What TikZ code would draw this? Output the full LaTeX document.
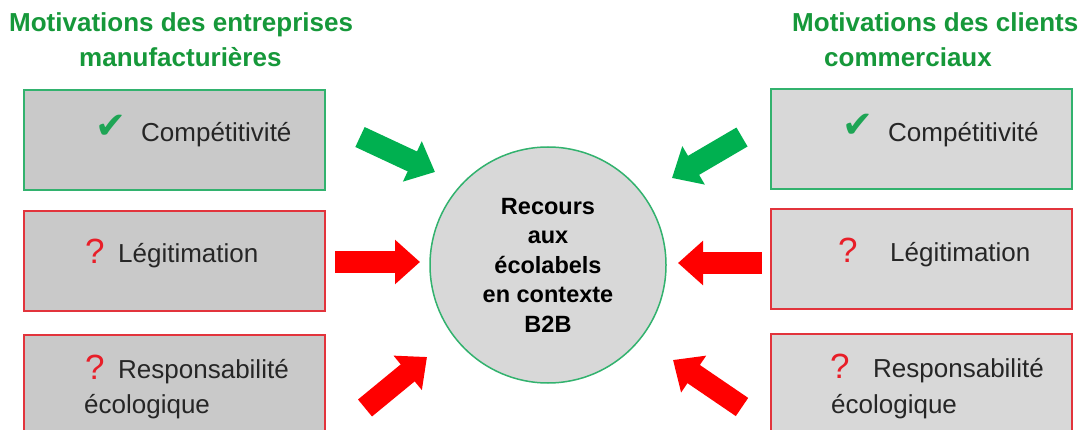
\documentclass[tikz,border=0pt]{standalone}
\usepackage{fontspec}
\setmainfont{Liberation Sans}
\newfontfamily\dejavu{DejaVu Sans}
\usetikzlibrary{arrows.meta}
\definecolor{titlegreen}{RGB}{22,152,58}
\definecolor{arrgreen}{RGB}{0,176,80}
\definecolor{arrred}{RGB}{255,0,0}
\definecolor{bordgreen}{RGB}{50,178,110}
\definecolor{bordred}{RGB}{226,52,60}
\definecolor{grayL}{RGB}{201,201,201}
\definecolor{grayR}{RGB}{216,216,216}
\definecolor{checkgreen}{RGB}{30,165,85}
\definecolor{qred}{RGB}{232,30,40}
\tikzset{
  titletext/.style={anchor=base west, inner sep=0pt, text=titlegreen, font=\fontsize{26}{32}\selectfont\bfseries},
  boxtext/.style={anchor=base west, inner sep=0pt, text={black!85}, font=\fontsize{26}{32}\selectfont},
  checkmk/.style={anchor=base west, inner sep=0pt, text=checkgreen, font=\dejavu\fontsize{37}{40}\selectfont},
  qmark/.style={anchor=base west, inner sep=0pt, text=qred, font=\fontsize{35}{40}\selectfont},
  mbox/.style={draw, line width=1.5pt, rectangle, minimum width=301pt, minimum height=100pt, inner sep=0pt},
  greenbox/.style={mbox, draw=bordgreen},
  redbox/.style={mbox, draw=bordred},
  bigarrow/.style={line width=22pt, -{Triangle[width=43pt,length=25pt]}},
}
\begin{document}
\begin{tikzpicture}[x=1pt,y=-1pt]
\useasboundingbox (0,0) rectangle (1079,430);
\clip (0,0) rectangle (1079,430);
\fill[white] (0,0) rectangle (1079,430);

% titles
\node[titletext] (tl1) at (9,32) {Motivations des entreprises};
\node[titletext] (tl2) at (79,67) {manufacturières};
\node[titletext] (tr1) at (792,32) {Motivations des clients};
\node[titletext] (tr2) at (824,67) {commerciaux};

% left boxes
\node[greenbox, fill=grayL] (l1) at (174.5,140) {};
\node[redbox, fill=grayL] (l2) at (174.5,261) {};
\node[redbox, fill=grayL, minimum height=110pt] (l3) at (174.5,390) {};
% right boxes
\node[greenbox, fill=grayR] (r1) at (921.5,139) {};
\node[redbox, fill=grayR] (r2) at (921.5,259) {};
\node[redbox, fill=grayR, minimum height=110pt] (r3) at (921.5,389) {};

% left texts
\node[checkmk] (lc1) at (95,139) {✔};
\node[boxtext] (lt1) at (141,142) {Compétitivité};
\node[qmark] (lq2) at (85,264) {?};
\node[boxtext] (lt2) at (118,263) {Légitimation};
\node[qmark] (lq3) at (85,379) {?};
\node[boxtext] (lt3) at (118,378) {Responsabilité};
\node[boxtext] (lt4) at (84,413) {écologique};

% right texts
\node[checkmk] (rc1) at (842,138) {✔};
\node[boxtext] (rt1) at (888,142) {Compétitivité};
\node[qmark] (rq2) at (838,263) {?};
\node[boxtext] (rt2) at (890,262) {Légitimation};
\node[qmark] (rq3) at (830,378) {?};
\node[boxtext] (rt3) at (873,377) {Responsabilité};
\node[boxtext] (rt4) at (831,413) {écologique};

% center circle
\node[circle, draw=bordgreen, line width=1.5pt, fill=grayR, minimum size=236pt, inner sep=0pt,
      align=center, font=\fontsize{23.5}{29.5}\selectfont\bfseries, text=black] (c) at (548,265)
  {Recours\\aux\\écolabels\\en contexte\\B2B};

% arrows
\coordinate (a1s) at (360,137); \coordinate (a1e) at (435,172);
\coordinate (a2s) at (335,262); \coordinate (a2e) at (420,262);
\coordinate (a3s) at (365,408); \coordinate (a3e) at (427,357);
\coordinate (a4s) at (742,137); \coordinate (a4e) at (672,178);
\coordinate (a5s) at (762,263); \coordinate (a5e) at (678,263);
\coordinate (a6s) at (742,407); \coordinate (a6e) at (673,360);
\draw[bigarrow, draw=arrgreen, fill=arrgreen] (a1s) -- (a1e);
\draw[bigarrow, draw=arrred, fill=arrred] (a2s) -- (a2e);
\draw[bigarrow, draw=arrred, fill=arrred] (a3s) -- (a3e);
\draw[bigarrow, draw=arrgreen, fill=arrgreen] (a4s) -- (a4e);
\draw[bigarrow, draw=arrred, fill=arrred] (a5s) -- (a5e);
\draw[bigarrow, draw=arrred, fill=arrred] (a6s) -- (a6e);
\end{tikzpicture}
\end{document}
